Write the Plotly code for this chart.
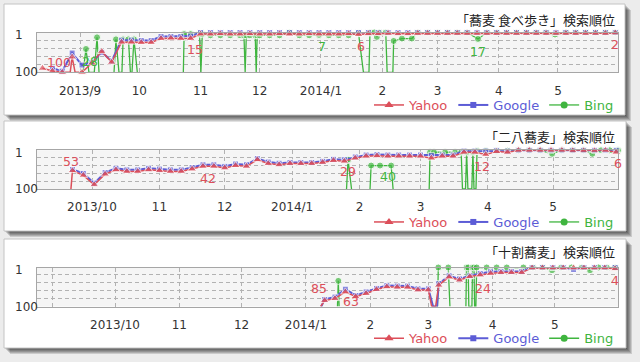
import pandas as pd
import plotly.graph_objects as go

# ---------------- data ----------------
BASE = pd.Timestamp("2013-09-01")
sample_dates = pd.date_range("2013-08-13", "2014-05-30", freq="5D")
sample_days = list((sample_dates - BASE).days)

months = ["2013-09-01", "2013-10-01", "2013-11-01", "2013-12-01", "2014-01-01",
          "2014-02-01", "2014-03-01", "2014-04-01", "2014-05-01"]

# Panel 1
p1_title = "「蕎麦 食べ歩き」検索順位"
p1_months = months
p1_month_labels = ["2013/9", "10", "11", "12", "2014/1", "2", "3", "4", "5"]
p1_yahoo = [90, 97, 100, 62, 100, 77, 48, 75, 25, 25, 26, 26, 16, 15, 16, 16,
            5, 5, 4, 5, 5, 4, 5, 5, 4, 5, 5, 4, 5, 5, 5, 4, 6, 4, 4, 3, 4, 4,
            3, 3, 3, 3, 3, 3, 3, 3, 3, 3, 3, 3, 3, 3, 3, 3, 3, 3, 3, 3, 2]
p1_yahoo_extra_days = [-5, -2.5]
p1_yahoo_extra_vals = [100, 100]
p1_google = [None, 90, 97, 52, 82, 76, 50, 72, 20, 20, 21, 21, 11, 11, 11, 10,
             1, 1, 1, 1, 1, 1, 1, 1, 1, 1, 1, 1, 1, 1, 1, 1, 1, 1, 1, 1, 1, 1,
             1, 1, 1, 1, 1, 1, 1, 1, 1, 1, 1, 1, 1, 1, 1, 1, 1, 1, 1, 1, 1]
p1_google_extra_days = []
p1_google_extra_vals = []
p1_bing_days = [1.5, 3, 4.5, 7.2, 8.6, 9.6, 10, 17.2, 18.2, 19.7, 21.2, 21.8, 24.5,
                25.5, 26.3, 27.3, 29, 30, 52.3, 52.7, 56, 60.5, 61.2, 61.9, 66, 71,
                76, 81, 83, 83.6, 84.2, 86, 88.7, 89.2, 89.7, 91, 96, 101, 106, 111,
                116, 121, 126, 131, 136, 141, 143.5, 146.3, 146.8, 149, 150.3, 151.5,
                154.8, 155.5, 158.4, 158.8, 163, 168, 171, 176, 181, 186, 191, 196,
                201.5, 206, 211, 216, 221, 226, 231, 236, 240.5, 246, 251, 256, 261,
                266, 271]
p1_bing_vals = [100, 42, 100, 100, 13, 100, None, 100, 18, 100, 100, 18, 18,
                100, 100, 18, 100, None, 100, 5, 5, 5, 100, 5, 8, 8,
                8, 8, 8, 100, 8, 8, 8, 100, 8, 8, 8, 8, 1, 8,
                8, 7, 8, 8, 8, 3, 100, 100, 1, 1, 12, 1,
                1, 100, 100, 22, 16, 16, 1, 1, 1, 1, 1, 1,
                17, 1, 1, 1, 1, 1, 1, 1, 6, 1, 1, 1, 1,
                1, 1]
p1_label_days = [-10.6, 5.1, 58.2, 122.5, 142.3, 201.5, 271.1]
p1_label_vals = [75, 72, 44, 36, 35, 49, 32]
p1_label_text = ["100", "28", "15", "7", "6", "17", "2"]
p1_label_series = ["Yahoo", "Bing", "Yahoo", "Bing", "Yahoo", "Bing", "Yahoo"]

# Panel 2
p2_title = "「二八蕎麦」検索順位"
p2_months = months[1:]
p2_month_labels = ["2013/10", "11", "12", "2014/1", "2", "3", "4", "5"]
p2_yahoo = [None, None, None, None, None, None, None, None,
            53, 65, 89, 62, 51, 55, 55, 51, 53, 55,
            55, 49, 42, 42, 46, 40, 42, 25, 35, 38,
            35, 35, 35, 32, 27, 29, 21, 16, 15, 16,
            16, 16, 16, 21, 16, 16, 6, 6, 12, 4,
            6, 1, 1, 1, 1, 1, 2, 2, 2, 1,
            6]
p2_yahoo_extra_days = [20.3]
p2_yahoo_extra_vals = [100]
p2_google = [None, None, None, None, None, None, None, None,
             50, 60, 85, 58, 47, 51, 51, 47, 49, 51,
             51, 45, 38, 38, 42, 36, 38, 22, 31, 34,
             32, 32, 32, 29, 24, 25, 18, 13, 12, 13,
             13, 13, 13, 14, 13, 13, 3, 3, 3, 2,
             3, 1, 1, 1, 1, 1, 1, 1, 1, 1,
             1]
p2_google_extra_days = []
p2_google_extra_vals = []
p2_bing_days = [147, 147.7, 149.3, 150, 157.8, 158.3, 162.4, 167.5, 168.4, 169,
                185, 185.4, 187.2, 192.3, 196.9, 199.7, 200.3, 201.7, 202.2, 202.8,
                204.6, 205.1, 205.6, 206.5, 207, 211, 216, 221, 226, 231, 236,
                241.5, 246, 251, 256, 260, 264, 268, 271.8]
p2_bing_vals = [100, 25, 100, None, 100, 40, 40, 40, 100, None,
                100, 6, 6, 6, 6, 6, 100, 100, 6, 100,
                100, 6, 100, 100, 3, 3, 3, 2, 1, 1, 1,
                10, 1, 1, 1, 10, 1, 1, 1]
p2_label_days = [20.3, 83.1, 147.5, 166.1, 209.5, 271.8]
p2_label_vals = [29, 72, 56, 69, 42, 33.5]
p2_label_text = ["53", "42", "29", "40", "12", "6"]
p2_label_series = ["Yahoo", "Yahoo", "Yahoo", "Bing", "Yahoo", "Yahoo"]

# Panel 3
p3_title = "「十割蕎麦」検索順位"
p3_months = months
p3_month_labels = ["", "2013/10", "11", "12", "2014/1", "2", "3", "4", "5"]
p3_yahoo = [None, None, None, None, None, None, None, None, None, None,
            None, None, None, None, None, None, None, None, None, None,
            None, None, None, None, None, None, None, None, None, None,
            85, 80, 63, 75, 67, 57, 50, 51, 51, 58,
            58, 46, 25, 33, 24, 20, 16, 14, 14, 14,
            2, 2, 2, 2, 2, 2, 2, 2, 4]
p3_yahoo_extra_days = [129.1, 182.6, 184.5]
p3_yahoo_extra_vals = [100, 100, 100]
p3_google = [None, None, None, None, None, None, None, None, None, None,
             None, None, None, None, None, None, None, None, None, None,
             None, None, None, None, None, None, None, None, None, None,
             82, 76, 56, 72, 63, 54, 47, 48, 48, 55,
             55, 42, 22, 30, 22, 16, 12, 11, 11, 11,
             1, 1, 1, 1, 6, 1, 1, 1, 1]
p3_google_extra_days = [129.4, 183.3, 185.2]
p3_google_extra_vals = [100, 100, 100]
p3_bing_days = [137.2, 137.6, 138, 139, 185.4, 185.8, 190.6, 191.4, 192,
                199.1, 199.4, 200.2, 200.5, 202.0, 202.3, 203.0, 203.3, 203.9, 204.3,
                209.1, 213.9, 218.8, 226.8, 231.4, 236,
                240.6, 245, 250, 255, 258.9, 263, 267, 271]
p3_bing_vals = [100, 35, 100, None, 100, 1, 1, 100, None,
                100, 1, 1, 100, 100, 1, 1, 100, 100, 1,
                1, 1, 1, 1, 1, 1,
                8, 1, 1, 1, 8, 1, 1, 1]
p3_label_days = [128.3, 143.6, 207.1, 270.9]
p3_label_vals = [54, 88, 54, 33]
p3_label_text = ["85", "63", "24", "4"]
p3_label_series = ["Yahoo", "Yahoo", "Yahoo", "Yahoo"]

# ---------------- style / layout ----------------
W, H = 640, 362
COL = {"Yahoo": "#dc4f5a", "Google": "#5c5cd6", "Bing": "#3fb53f"}
FONT = "DejaVu Sans"
CJK = "Noto Sans CJK JP"
SIZE = {"Yahoo": 8, "Google": 6, "Bing": 7}


def fx(px):
    return px / W


def fy(py):
    return 1 - py / H


BOXES = [(4, 4, 625, 115), (4, 121, 626, 231), (4, 239, 626, 348)]
PLOTS = [(37, 32.5, 618, 72.3), (37, 150.3, 618, 189), (37, 267.5, 618, 306.5)]
TITLE_Y = [19.5, 136.7, 251.7]
LEGEND_Y = [105, 222, 338.3]
XRANGES = [(-21.8, 272.4), (4.7, 271.8), (-7.6, 272.4)]

panels = [
    dict(title=p1_title, months=p1_months, mlabels=p1_month_labels,
         yahoo=p1_yahoo, yx=(p1_yahoo_extra_days, p1_yahoo_extra_vals),
         google=p1_google, gx=(p1_google_extra_days, p1_google_extra_vals),
         bd=p1_bing_days, bv=p1_bing_vals,
         ld=p1_label_days, lv=p1_label_vals, lt=p1_label_text, ls=p1_label_series),
    dict(title=p2_title, months=p2_months, mlabels=p2_month_labels,
         yahoo=p2_yahoo, yx=(p2_yahoo_extra_days, p2_yahoo_extra_vals),
         google=p2_google, gx=(p2_google_extra_days, p2_google_extra_vals),
         bd=p2_bing_days, bv=p2_bing_vals,
         ld=p2_label_days, lv=p2_label_vals, lt=p2_label_text, ls=p2_label_series),
    dict(title=p3_title, months=p3_months, mlabels=p3_month_labels,
         yahoo=p3_yahoo, yx=(p3_yahoo_extra_days, p3_yahoo_extra_vals),
         google=p3_google, gx=(p3_google_extra_days, p3_google_extra_vals),
         bd=p3_bing_days, bv=p3_bing_vals,
         ld=p3_label_days, lv=p3_label_vals, lt=p3_label_text, ls=p3_label_series),
]


def merge(grid_vals, extra):
    pts = [(d, v, True) for d, v in zip(sample_days, grid_vals) if v is not None]
    pts += [(d, v, False) for d, v in zip(extra[0], extra[1])]
    pts.sort(key=lambda p: p[0])
    return [p[0] for p in pts], [p[1] for p in pts], [p[2] for p in pts]


fig = go.Figure()
shapes = []
annotations = []
layout_axes = {}

for i, p in enumerate(panels):
    n = "" if i == 0 else str(i + 1)
    xa, ya = "x" + n, "y" + n
    leg = "legend" + n

    # Bing (bottom), Google, Yahoo (top)
    bsizes = [SIZE["Bing"] if (v is not None and v < 100) else 0 for v in p["bv"]]
    fig.add_trace(go.Scatter(
        x=p["bd"], y=p["bv"], mode="lines+markers", connectgaps=False,
        line=dict(color=COL["Bing"], width=1.3),
        marker=dict(symbol="circle", size=bsizes, color=COL["Bing"]),
        xaxis=xa, yaxis=ya, showlegend=False, hoverinfo="skip", cliponaxis=False))
    gd, gv, gg = merge(p["google"], p["gx"])
    fig.add_trace(go.Scatter(
        x=gd, y=gv, mode="lines+markers",
        line=dict(color=COL["Google"], width=2),
        marker=dict(symbol="square", size=[SIZE["Google"] if g else 0 for g in gg],
                    color=COL["Google"]),
        xaxis=xa, yaxis=ya, showlegend=False, hoverinfo="skip", cliponaxis=False))
    yd, yv, yg = merge(p["yahoo"], p["yx"])
    fig.add_trace(go.Scatter(
        x=yd, y=yv, mode="lines+markers",
        line=dict(color=COL["Yahoo"], width=1.5),
        marker=dict(symbol="triangle-up", size=[SIZE["Yahoo"] if g else 0 for g in yg],
                    color=COL["Yahoo"]),
        xaxis=xa, yaxis=ya, showlegend=False, hoverinfo="skip", cliponaxis=False))

    # legend entries
    for rank, (name, sym, width) in enumerate([
            ("Yahoo", "triangle-up", 1.5), ("Google", "square", 2),
            ("Bing", "circle", 1.3)]):
        fig.add_trace(go.Scatter(
            x=[None], y=[None], mode="lines+markers",
            name="<span style='color:%s'>%s</span>" % (COL[name], name),
            line=dict(color=COL[name], width=width),
            marker=dict(symbol=sym, size=SIZE[name], color=COL[name]),
            xaxis=xa, yaxis=ya, legend=leg, legendrank=rank + 1, showlegend=True))

    x0, y0, x1, y1 = PLOTS[i]
    tick_days = list((pd.to_datetime(p["months"]) - BASE).days)
    layout_axes["xaxis" + n] = dict(
        domain=[fx(x0), fx(x1)], anchor=ya, range=list(XRANGES[i]),
        tickmode="array", tickvals=tick_days, ticktext=p["mlabels"],
        showgrid=True, gridcolor="#b2b2b2", gridwidth=1, griddash="4px,3px",
        showline=True, mirror=True, linecolor="#a6a6a6", linewidth=1,
        ticks="outside", ticklen=7, tickcolor="rgba(0,0,0,0)",
        tickfont=dict(family=FONT, size=12, color="#333333"),
        zeroline=False, fixedrange=True)
    layout_axes["yaxis" + n] = dict(
        domain=[fy(y1), fy(y0)], anchor=xa, range=[100, 1],
        tickmode="array", tickvals=[20, 40, 60, 80], showticklabels=False,
        showgrid=True, gridcolor="#b2b2b2", gridwidth=1, griddash="4px,3px",
        showline=True, mirror=True, linecolor="#a6a6a6", linewidth=1,
        ticks="", zeroline=False, fixedrange=True)

    # box, shadow, plot background
    bx0, by0, bx1, by1 = BOXES[i]
    for s in range(1, 7):
        shapes.append(dict(type="rect", xref="paper", yref="paper", layer="below",
                           x0=fx(bx0 + s), x1=fx(bx1 + s), y0=fy(by1 + s), y1=fy(by0 + s),
                           fillcolor="rgba(0,0,0,0.14)", line=dict(width=0)))
    shapes.append(dict(type="rect", xref="paper", yref="paper", layer="below",
                       x0=fx(bx0), x1=fx(bx1), y0=fy(by1), y1=fy(by0),
                       fillcolor="#ffffff", line=dict(color="#c4c4c4", width=1)))
    shapes.append(dict(type="rect", xref="paper", yref="paper", layer="below",
                       x0=fx(x0), x1=fx(x1), y0=fy(y1), y1=fy(y0),
                       fillcolor="#f5f5f5", line=dict(width=0)))

    # titles
    annotations.append(dict(xref="paper", yref="paper", x=fx(617), y=fy(TITLE_Y[i]),
                            xanchor="right", yanchor="middle", showarrow=False,
                            text=p["title"], font=dict(family=CJK, size=13, color="#222222")))
    # y labels 1 / 100
    annotations.append(dict(xref="paper", yref=ya, x=fx(13), y=1, yshift=-2.5,
                            xanchor="left", yanchor="middle", showarrow=False, text="1",
                            font=dict(family=FONT, size=12, color="#333333")))
    annotations.append(dict(xref="paper", yref=ya, x=fx(13), y=100,
                            xanchor="left", yanchor="middle", showarrow=False, text="100",
                            font=dict(family=FONT, size=12, color="#333333")))
    # data labels
    for d, v, t, s in zip(p["ld"], p["lv"], p["lt"], p["ls"]):
        annotations.append(dict(xref=xa, yref=ya, x=d, y=v, text=t, showarrow=False,
                                xanchor="center", yanchor="middle",
                                font=dict(family=FONT, size=12.5, color=COL[s])))

    layout_axes[leg] = dict(orientation="h", x=fx(619), xanchor="right",
                            y=fy(LEGEND_Y[i]), yanchor="middle",
                            font=dict(family=FONT, size=13),
                            bgcolor="rgba(0,0,0,0)", itemwidth=30,
                            traceorder="normal", itemclick=False, itemdoubleclick=False)

fig.update_layout(
    width=W, height=H, autosize=False,
    margin=dict(l=0, r=0, t=0, b=0),
    paper_bgcolor="#ececec", plot_bgcolor="rgba(0,0,0,0)",
    shapes=shapes, annotations=annotations, hovermode=False,
    **layout_axes)

fig.write_html("out.html",
               config={"displayModeBar": False, "staticPlot": True},
               post_script="document.body.style.margin='0';document.body.style.overflow='hidden';")
